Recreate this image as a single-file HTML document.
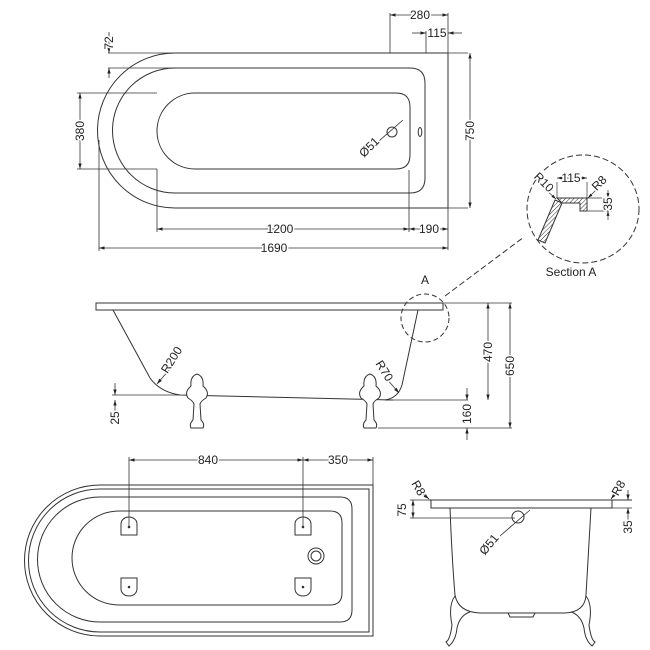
<!DOCTYPE html>
<html><head><meta charset="utf-8"><style>
html,body{margin:0;padding:0;background:#fff}
svg{display:block}
text{font-family:"Liberation Sans",sans-serif;font-size:12px;fill:#222;stroke:#fff;stroke-width:3px;paint-order:stroke;stroke-linejoin:round}
</style></head><body>
<svg width="650" height="650" viewBox="0 0 650 650" xmlns="http://www.w3.org/2000/svg">
<defs>
<marker id="a" viewBox="0 0 10 10" refX="10" refY="5" markerWidth="7" markerHeight="7" orient="auto-start-reverse"><path d="M0,2 L10,5 L0,8 z" fill="#222"/></marker>
<pattern id="h" width="3" height="3" patternUnits="userSpaceOnUse" patternTransform="rotate(45)"><line x1="0" y1="0" x2="0" y2="3" stroke="#333" stroke-width="1"/></pattern>
</defs>
<g fill="none" stroke="#333" stroke-width="1">
<path d="M448,53 L175,53 A77.5,77.5 0 0 0 175,208 L448,208 Z"/>
<path d="M410,68 L175,68 A62.5,62.5 0 0 0 175,193 L410,193 Q425,193 425,178 L425,83 Q425,68 410,68 Z"/>
<path d="M396,93 L195,93 A38,38 0 0 0 195,169 L396,169 Q410,169 410,155 L410,107 Q410,93 396,93 Z"/>
<circle cx="392" cy="132" r="5"/>
<ellipse cx="420" cy="132" rx="1.8" ry="4.5"/>
<g stroke-width="0.8">
<line x1="108" y1="53" x2="468" y2="53"/>
<line x1="108" y1="68" x2="175" y2="68"/>
<line x1="448" y1="208" x2="468" y2="208"/>
<line x1="390" y1="13" x2="390" y2="53"/>
<line x1="448" y1="13" x2="448" y2="250"/>
<line x1="426" y1="31" x2="426" y2="53"/>
<line x1="390" y1="15" x2="448" y2="15" marker-start="url(#a)" marker-end="url(#a)"/>
<line x1="412" y1="33" x2="426" y2="33" marker-end="url(#a)"/>
<line x1="462" y1="33" x2="448" y2="33" marker-end="url(#a)"/>
<line x1="109" y1="32" x2="109" y2="53" marker-end="url(#a)"/>
<line x1="109" y1="78" x2="109" y2="68" marker-end="url(#a)"/>
<line x1="470" y1="53" x2="470" y2="208" marker-start="url(#a)" marker-end="url(#a)"/>
<line x1="77" y1="93" x2="157" y2="93"/>
<line x1="77" y1="169" x2="157" y2="169"/>
<line x1="80" y1="93" x2="80" y2="169" marker-start="url(#a)" marker-end="url(#a)"/>
<line x1="157" y1="169" x2="157" y2="232"/>
<line x1="409" y1="170" x2="409" y2="232"/>
<line x1="99" y1="140" x2="99" y2="251"/>
<line x1="157" y1="229" x2="409" y2="229" marker-start="url(#a)" marker-end="url(#a)"/>
<line x1="409" y1="229" x2="448" y2="229" marker-start="url(#a)" marker-end="url(#a)"/>
<line x1="99" y1="248" x2="448" y2="248" marker-start="url(#a)" marker-end="url(#a)"/>
<line x1="372" y1="147" x2="403" y2="120"/>
</g>
<rect x="96" y="303" width="347" height="7"/>
<path d="M113,310 L150,378 Q160,392 180,395 L393,400"/>
<path d="M418,310 L402,385 Q398,398 385,400"/>
<g stroke-width="0.8">
<line x1="112" y1="395" x2="180" y2="395"/>
<line x1="385" y1="400" x2="468" y2="400"/>
<line x1="378" y1="428" x2="512" y2="428"/>
<line x1="443" y1="303" x2="512" y2="303"/>
<line x1="488" y1="303" x2="488" y2="400" marker-start="url(#a)" marker-end="url(#a)"/>
<line x1="510" y1="303" x2="510" y2="428" marker-start="url(#a)" marker-end="url(#a)"/>
<line x1="467" y1="388" x2="467" y2="400" marker-end="url(#a)"/>
<line x1="467" y1="440" x2="467" y2="428" marker-end="url(#a)"/>
<line x1="115" y1="383" x2="115" y2="395" marker-end="url(#a)"/>
<line x1="115" y1="412" x2="115" y2="400" marker-end="url(#a)"/>
<line x1="169" y1="370" x2="157" y2="384" marker-end="url(#a)"/>
<line x1="386" y1="378" x2="399" y2="393" marker-end="url(#a)"/>
</g>
<g id="foot" fill="#fff">
<path d="M197,374 Q190,376 191,386 Q184,392 188,398 Q193,401 194,404 L193,420 Q189,424 191,428 L203,428 Q205,424 201,420 L200,404 Q201,401 206,398 Q210,392 203,386 Q204,376 197,374 Z"/>
</g>
<use href="#foot" x="173"/>
<circle cx="425" cy="318" r="24" stroke-dasharray="5,3"/>
<line x1="445" y1="296" x2="524" y2="237" stroke-dasharray="6,3"/>
<ellipse cx="583" cy="209" rx="56" ry="54" stroke-dasharray="6,3"/>
<path d="M557,198 L587,198 L587,211 L580,211 L580,203 L562,203 Z" fill="url(#h)"/>
<path d="M555,200 L562,203 L545,243 L538,240 Z" fill="url(#h)"/>
<g stroke-width="0.7">
<line x1="557" y1="182" x2="557" y2="198"/>
<line x1="587" y1="182" x2="587" y2="198"/>
<line x1="557" y1="178" x2="587" y2="178" marker-start="url(#a)" marker-end="url(#a)"/>
<line x1="587" y1="198" x2="612" y2="198"/>
<line x1="587" y1="211" x2="612" y2="211"/>
<line x1="608" y1="190" x2="608" y2="198" marker-end="url(#a)"/>
<line x1="608" y1="220" x2="608" y2="211" marker-end="url(#a)"/>
<line x1="546" y1="190" x2="556" y2="199" marker-end="url(#a)"/>
<line x1="597" y1="189" x2="588" y2="198" marker-end="url(#a)"/>
</g>
<path d="M373,485 L100,485 A75.5,75.5 0 0 0 100,636 L373,636 Z"/>
<path d="M369,489 L100,489 A71.5,71.5 0 0 0 100,632 L369,632 Z"/>
<path d="M340,497 L100,497 A62.5,62.5 0 0 0 100,622 L340,622 Q352,622 352,610 L352,509 Q352,497 340,497 Z"/>
<path d="M330,511 L119,511 A47,47 0 0 0 119,605 L330,605 Q342,605 342,593 L342,523 Q342,511 330,511 Z"/>
<circle cx="316" cy="556" r="8"/><circle cx="316" cy="556" r="5"/>
<g id="pt"><path d="M121,535 L121,524 A8,7 0 0 1 137,524 L137,535 Z"/><circle cx="129" cy="527" r="0.8" fill="#333"/></g>
<use href="#pt" x="174"/>
<g id="pb"><path d="M121,578 L137,578 L137,589 A8,7 0 0 1 121,589 Z"/><circle cx="129" cy="587" r="0.8" fill="#333"/></g>
<use href="#pb" x="174"/>
<g stroke-width="0.8">
<line x1="129" y1="457" x2="129" y2="527"/>
<line x1="303" y1="457" x2="303" y2="527"/>
<line x1="373" y1="457" x2="373" y2="485"/>
<line x1="129" y1="460" x2="303" y2="460" marker-start="url(#a)" marker-end="url(#a)"/>
<line x1="303" y1="460" x2="373" y2="460" marker-start="url(#a)" marker-end="url(#a)"/>
</g>
<path d="M428,500 L632,500 M431,500 L431,508 L612,508 L612,500"/>
<path d="M450,508 Q452,560 455,595 Q458,612 480,613 L565,613 Q585,612 586,595 Q588,560 591,508"/>
<path d="M455,596 Q448,605 452,625 Q450,640 446,642 L449,646 Q456,640 457,628 Q460,615 470,612"/>
<path d="M586,596 Q593,605 589,625 Q591,640 595,642 L592,646 Q585,640 584,628 Q581,615 571,612"/>
<path d="M508,613 L510,617 L533,617 L535,613"/>
<circle cx="518" cy="517" r="6"/>
<g stroke-width="0.8">
<line x1="410" y1="518" x2="515" y2="518"/>
<line x1="410" y1="500" x2="428" y2="500"/>
<line x1="413" y1="500" x2="413" y2="518" marker-start="url(#a)" marker-end="url(#a)"/>
<line x1="612" y1="508" x2="632" y2="508"/>
<line x1="628" y1="490" x2="628" y2="500" marker-end="url(#a)"/>
<line x1="628" y1="520" x2="628" y2="508" marker-end="url(#a)"/>
<line x1="418" y1="490" x2="429" y2="499" marker-end="url(#a)"/>
<line x1="618" y1="490" x2="611" y2="499" marker-end="url(#a)"/>
<line x1="500" y1="536" x2="530" y2="510"/>
</g>
</g>
<g>
<text x="420" y="19" text-anchor="middle">280</text>
<text x="437" y="37" text-anchor="middle">115</text>
<text transform="translate(113,43) rotate(-90)" text-anchor="middle">72</text>
<text transform="translate(474,131) rotate(-90)" text-anchor="middle">750</text>
<text transform="translate(84,131) rotate(-90)" text-anchor="middle">380</text>
<text x="280" y="233" text-anchor="middle">1200</text>
<text x="429" y="233" text-anchor="middle">190</text>
<text x="274" y="252" text-anchor="middle">1690</text>
<text transform="translate(372,150) rotate(-45)" text-anchor="middle">Ø51</text>
<text x="425" y="284" text-anchor="middle" font-size="13">A</text>
<text transform="translate(175,362) rotate(-58)" text-anchor="middle">R200</text>
<text transform="translate(381,373) rotate(58)" text-anchor="middle">R70</text>
<text transform="translate(492,352) rotate(-90)" text-anchor="middle">470</text>
<text transform="translate(514,366) rotate(-90)" text-anchor="middle">650</text>
<text transform="translate(471,414) rotate(-90)" text-anchor="middle">160</text>
<text transform="translate(119,418) rotate(-90)" text-anchor="middle">25</text>
<text x="571" y="182" text-anchor="middle" font-size="11">115</text>
<text transform="translate(541,185) rotate(45)" text-anchor="middle" font-size="11">R10</text>
<text transform="translate(602,186) rotate(-45)" text-anchor="middle" font-size="11">R8</text>
<text transform="translate(612,204) rotate(-90)" text-anchor="middle" font-size="11">35</text>
<text x="571" y="276" text-anchor="middle" font-size="14">Section A</text>
<text x="208" y="464" text-anchor="middle">840</text>
<text x="338" y="464" text-anchor="middle">350</text>
<text transform="translate(415,490) rotate(60)" text-anchor="middle">R8</text>
<text transform="translate(622,490) rotate(-60)" text-anchor="middle">R8</text>
<text transform="translate(406,510) rotate(-90)" text-anchor="middle">75</text>
<text transform="translate(632,527) rotate(-90)" text-anchor="middle">35</text>
<text transform="translate(492,547) rotate(-50)" text-anchor="middle">Ø51</text>
</g>
</svg>
</body></html>
